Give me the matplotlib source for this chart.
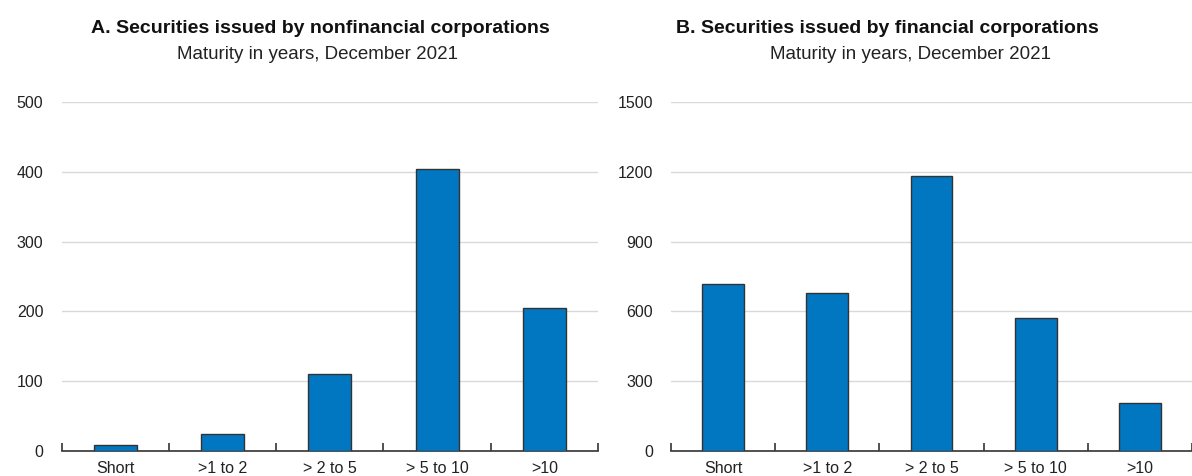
import matplotlib.pyplot as plt
import numpy as np
from matplotlib import font_manager

names = {f.name for f in font_manager.fontManager.ttflist}
fam = 'Liberation Sans Narrow' if 'Liberation Sans Narrow' in names else 'Liberation Sans'
plt.rcParams['font.family'] = [fam, 'DejaVu Sans']

categories = ['Short', '>1 to 2', '> 2 to 5', '> 5 to 10', '>10']
nonfin = [8, 24, 110, 404, 205]
fin = [718, 679, 1182, 572, 206]

BLUE = '#0177c1'
W, H = 1192, 476

fig = plt.figure(figsize=(W/100, H/100), dpi=100)
ax1 = fig.add_axes([61.5/W, 25/H, 536.5/W, 349/H])
ax2 = fig.add_axes([671/W, 25/H, 521/W, 349/H])

def panel(ax, vals, ymax, step, title, tx, sx):
    x = np.arange(len(vals))
    ax.bar(x, vals, width=0.4, color=BLUE, edgecolor='#333333', linewidth=1.0, zorder=3)
    ax.set_xlim(-0.5, len(vals) - 0.5)
    ax.set_ylim(0, ymax)
    ax.set_yticks(np.arange(0, ymax + 1, step))
    ax.yaxis.grid(True, color='#d9d9d9', linewidth=1.0, zorder=0)
    for s in ['top', 'right', 'left']:
        ax.spines[s].set_visible(False)
    ax.spines['bottom'].set_color('#333333')
    ax.spines['bottom'].set_linewidth(1.2)
    ax.tick_params(axis='y', length=0, pad=13, labelsize=11.5, labelcolor='#222222')
    # category labels centred under bars, boundary ticks pointing up
    ax.set_xticks(x)
    ax.set_xticklabels(categories)
    ax.tick_params(axis='x', which='major', length=0, pad=7, labelsize=11.5, labelcolor='#222222')
    ax.set_xticks(np.arange(-0.5, len(vals)), minor=True)
    ax.tick_params(axis='x', which='minor', direction='in', length=6, width=1.2, color='#333333')
    fig.text(tx/W, 1 - 33/H, title, ha='center', va='baseline',
             fontsize=14, fontweight='bold', color='#111111')
    fig.text(sx/W, 1 - 59/H, 'Maturity in years, December 2021',
             ha='center', va='baseline', fontsize=13.5, color='#222222')

panel(ax1, nonfin, 500, 100, 'A. Securities issued by nonfinancial corporations', 320, 318)
panel(ax2, fin, 1500, 300, 'B. Securities issued by financial corporations', 887, 910)

fig.savefig('out.png', dpi=100)
